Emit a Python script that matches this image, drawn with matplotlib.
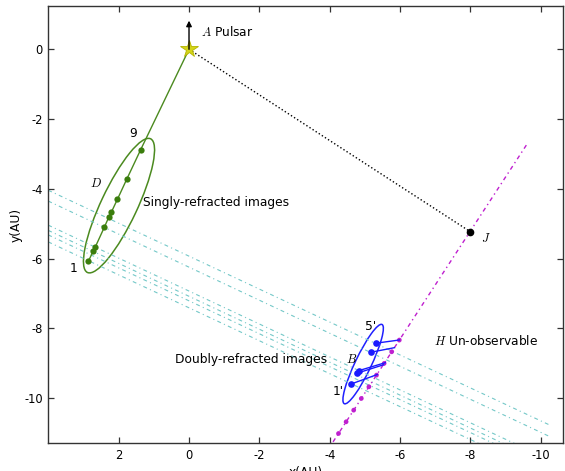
import matplotlib
matplotlib.use('Agg')
import matplotlib.pyplot as plt
from matplotlib.patches import Ellipse

plt.rcParams['mathtext.fontset'] = 'cm'
plt.rcParams['axes.unicode_minus'] = False
plt.rcParams['font.family'] = ['DejaVu Sans']

# ---------------- data ----------------
pulsar_x, pulsar_y = 0.0, 0.0
arrow_tip_y = 0.82
j_x, j_y = -8.0, -5.23

single_x = [1.374, 1.771, 2.035, 2.205, 2.282, 2.404, 2.660, 2.716, 2.858]
single_y = [-2.877, -3.725, -4.298, -4.662, -4.814, -5.092, -5.656, -5.771, -6.066]

double_x = [-4.61, -4.78, -4.82, -5.175, -5.325]
double_y = [-9.59, -9.28, -9.21, -8.68, -8.42]
double_end_x = [-5.35, -5.53, -5.58, -5.84, -5.98]
double_end_y = [-9.32, -9.04, -8.98, -8.55, -8.33]

magenta_x = [-3.9, -9.6]
magenta_y = [-11.55, -2.73]
magenta_thick_x = [-5.98, -3.9]
magenta_thick_y = [-8.33, -11.55]

cyan_x = [4.0, -10.26]
cyan_y_start = [-4.04, -4.35, -5.04, -5.19, -5.32, -5.52]
cyan_y_end = [-10.77, -11.10, -11.77, -11.92, -12.05, -12.25]

green_ell = dict(xy=(1.99, -4.48), width=4.23, height=1.03, angle=-64.9)
blue_ell = dict(xy=(-4.95, -9.02), width=2.51, height=0.46, angle=-64.7)

xticks = [2, 0, -2, -4, -6, -8, -10]
yticks = [0, -2, -4, -6, -8, -10]

# ---------------- figure ----------------
W, H = 565, 471
fig = plt.figure(figsize=(W / 100, H / 100), dpi=100)
L, R, T, B = 48.3, 563.3, 6.0, 443.3
ax = fig.add_axes([L / W, (H - B) / H, (R - L) / W, (B - T) / H])

GREEN = '#4b8a1f'
GREEN_DOT = '#3a7d0c'
CYAN = '#74c8c8'
MAG = '#bf1fcf'

for y0, y1 in zip(cyan_y_start, cyan_y_end):
    ax.plot(cyan_x, [y0, y1], color=CYAN, lw=0.8, linestyle=(0, (3.5, 3, 1, 3)))

ax.plot([pulsar_x, j_x], [pulsar_y, j_y], color='k', lw=1, linestyle=':')
ax.plot(magenta_x, magenta_y, color=MAG, lw=1, linestyle=(0, (3, 2.5, 1, 2.5)))
ax.plot(magenta_thick_x, magenta_thick_y, color=MAG, lw=3.4, linestyle=(0, (0.05, 2.9)),
        dash_capstyle='round')

ax.plot([pulsar_x] + single_x, [pulsar_y] + single_y, color=GREEN, lw=1)
ax.add_patch(Ellipse(fill=False, edgecolor=GREEN, lw=1.1, **green_ell))
ax.plot(single_x, single_y, 'o', color=GREEN_DOT, markersize=4.5, markeredgewidth=0)

for x0, y0, x1, y1 in zip(double_x, double_y, double_end_x, double_end_y):
    ax.plot([x0, x1], [y0, y1], color='#1a1aff', lw=1)
ax.plot(double_x, double_y, 'o', color='#1a1aff', markersize=4.8, markeredgewidth=0)
ax.add_patch(Ellipse(fill=False, edgecolor='#2020ff', lw=1.1, **blue_ell))

ax.annotate('', xy=(pulsar_x, arrow_tip_y), xytext=(pulsar_x, pulsar_y),
            arrowprops=dict(arrowstyle='-|>', color='k', lw=1, mutation_scale=8,
                            shrinkA=0, shrinkB=0))
ax.plot([pulsar_x], [pulsar_y], '*', color='#d4d41a', markeredgecolor='#b5b500',
        markersize=13, markeredgewidth=0.6)
ax.plot([j_x], [j_y], 'o', color='k', markersize=4.5)

fs = 8.8
ax.text(-0.33, 0.49, r'$A$ Pulsar', fontsize=fs, ha='left', va='center')
ax.text(1.59, -2.41, '9', fontsize=fs, ha='center', va='center')
ax.text(3.28, -6.28, '1', fontsize=fs, ha='center', va='center')
ax.text(2.64, -3.86, r'$D$', fontsize=fs, ha='center', va='center')
ax.text(1.30, -4.38, 'Singly-refracted images', fontsize=fs, ha='left', va='center')
ax.text(0.41, -8.88, 'Doubly-refracted images', fontsize=fs, ha='left', va='center')
ax.text(-4.61, -8.88, r'$B$', fontsize=fs, ha='center', va='center')
ax.text(-5.15, -7.95, "5'", fontsize=fs, ha='center', va='center')
ax.text(-4.24, -9.80, "1'", fontsize=fs, ha='center', va='center')
ax.text(-6.97, -8.36, r'$H$ Un-observable', fontsize=fs, ha='left', va='center')
ax.text(-8.43, -5.43, r'$J$', fontsize=fs, ha='center', va='center')

ax.set_xlim(4.0, -10.64)
ax.set_ylim(-11.29, 1.24)
ax.set_xticks(xticks)
ax.set_yticks(yticks)
ax.tick_params(direction='in', top=True, right=True, length=4, width=0.9,
               labelsize=8.3, pad=4, color='#333333')
for s in ax.spines.values():
    s.set_color('#333333')
    s.set_linewidth(1.0)
ax.set_xlabel('x(AU)', fontsize=fs)
ax.set_ylabel('y(AU)', fontsize=fs)
ax.xaxis.set_label_coords(0.5, -0.052)
ax.yaxis.set_label_coords(-0.05, 0.5)

fig.savefig('out.png', dpi=100)
